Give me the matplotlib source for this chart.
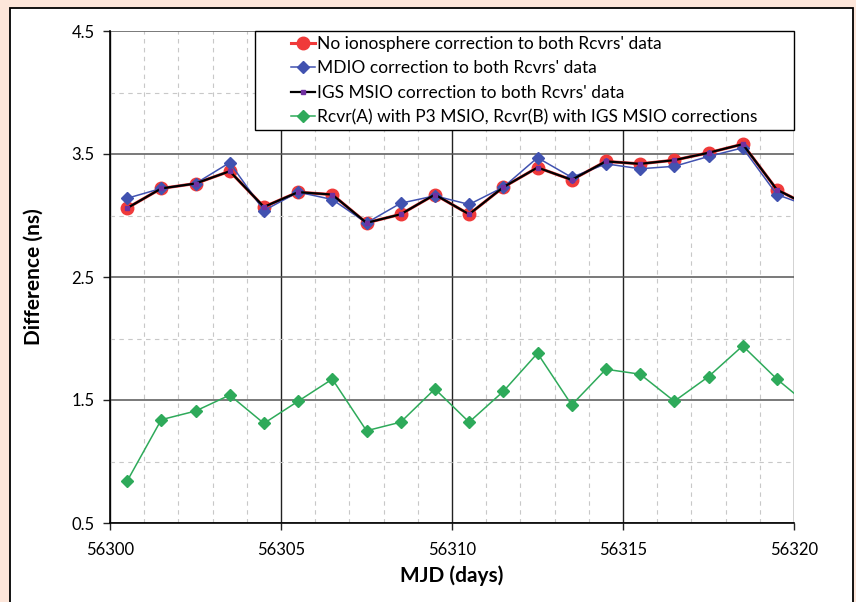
import matplotlib
matplotlib.use("Agg")
import matplotlib.pyplot as plt
from matplotlib.patches import Rectangle
from matplotlib.ticker import MultipleLocator, FormatStrFormatter

plt.rcParams["font.family"] = ["Lato", "DejaVu Sans"]

PEACH = "#FDE6DA"
RED = "#F03A3A"
BLUE = "#4152B0"
PURPLE = "#7030A0"
GREEN = "#2EAA5A"

mjd = [56300.5, 56301.5, 56302.5, 56303.5, 56304.5, 56305.5, 56306.5,
       56307.5, 56308.5, 56309.5, 56310.5, 56311.5, 56312.5, 56313.5,
       56314.5, 56315.5, 56316.5, 56317.5, 56318.5, 56319.5, 56320.5]
no_iono = [3.06, 3.22, 3.26, 3.36, 3.07, 3.19, 3.17, 2.94, 3.01, 3.17, 3.01,
           3.23, 3.39, 3.29, 3.44, 3.42, 3.45, 3.51, 3.58, 3.21, 3.07]
mdio = [3.14, 3.22, 3.26, 3.43, 3.04, 3.19, 3.13, 2.94, 3.10, 3.16, 3.09,
        3.23, 3.47, 3.31, 3.42, 3.38, 3.40, 3.48, 3.55, 3.17, 3.07]
igs_msio = [3.06, 3.22, 3.26, 3.36, 3.07, 3.19, 3.17, 2.94, 3.01, 3.17, 3.01,
            3.23, 3.39, 3.29, 3.44, 3.42, 3.45, 3.51, 3.58, 3.21, 3.07]
p3_msio = [0.84, 1.34, 1.41, 1.54, 1.31, 1.49, 1.67, 1.25, 1.32, 1.59, 1.32,
           1.57, 1.88, 1.46, 1.75, 1.71, 1.49, 1.69, 1.94, 1.67, 1.44]

labels = ["No ionosphere correction to both Rcvrs' data",
          "MDIO correction to both Rcvrs' data",
          "IGS MSIO correction to both Rcvrs' data",
          "Rcvr(A) with P3 MSIO, Rcvr(B) with IGS MSIO corrections"]

W, H = 856, 602
fig = plt.figure(figsize=(W / 100, H / 100), dpi=100, facecolor=PEACH)
fig.patches.append(Rectangle((10 / W, -0.05), 843 / W, 1.05 - 8 / H,
                             transform=fig.transFigure, facecolor="white",
                             edgecolor="black", lw=1.3, zorder=0))

ax = fig.add_axes([110 / W, 1 - 523 / H, 684 / W, 492 / H])
ax.set_facecolor("white")
ax.set_zorder(1)

ax.plot(mjd, p3_msio, color=GREEN, lw=1.1, marker="D", ms=6.5, mec=GREEN,
        mfc=GREEN, zorder=3, label=labels[3])
ax.plot(mjd, no_iono, color=RED, lw=2.2, marker="o", ms=9, mec=RED,
        mfc=RED, zorder=4, label=labels[0])
ax.plot(mjd, mdio, color=BLUE, lw=1.1, marker="D", ms=6.5, mec=BLUE,
        mfc=BLUE, zorder=5, label=labels[1])
ax.plot(mjd, igs_msio, color="black", lw=1.6, marker="s", ms=3, mec=PURPLE,
        mfc=PURPLE, zorder=6, label=labels[2])

ax.set_xlim(56300, 56320)
ax.set_ylim(0.5, 4.5)
ax.xaxis.set_major_locator(MultipleLocator(5))
ax.xaxis.set_minor_locator(MultipleLocator(1))
ax.yaxis.set_major_locator(MultipleLocator(1))
ax.yaxis.set_minor_locator(MultipleLocator(0.5))
ax.set_yticks([0.5, 1.5, 2.5, 3.5, 4.5])
ax.yaxis.set_major_formatter(FormatStrFormatter("%.1f"))

ax.grid(which="minor", color="#C8C8C8", ls=(0, (4, 4)), lw=0.8)
ax.grid(which="major", axis="x", color="#222222", lw=1.0)
ax.grid(which="major", axis="y", color="#555555", lw=1.1)
ax.set_axisbelow(True)

for s in ["top", "right"]:
    ax.spines[s].set_visible(False)
for s in ["left", "bottom"]:
    ax.spines[s].set_color("black")
    ax.spines[s].set_linewidth(1.2)

ax.tick_params(which="major", direction="out", length=5, width=1,
               colors="#222222", labelsize=12, labelcolor="black")
ax.tick_params(axis="y", pad=6)
ax.tick_params(axis="x", pad=9)
ax.tick_params(which="minor", length=0)

ax.set_xlabel("MJD (days)", fontsize=15, fontweight="bold", labelpad=5)
ax.set_ylabel("Difference (ns)", fontsize=15, fontweight="bold", labelpad=20)

# legend box drawn separately (Excel style padding)
fig.patches.append(Rectangle((255 / W, 1 - 130 / H), 539 / W, 99 / H,
                             transform=fig.transFigure, facecolor="white",
                             edgecolor="black", lw=1.0, zorder=5))
handles, labs = ax.get_legend_handles_labels()
order = [1, 2, 3, 0]
leg = fig.legend([handles[i] for i in order], [labs[i] for i in order],
                 loc="center", bbox_to_anchor=(524 / W, 1 - 80.5 / H),
                 frameon=False, fontsize=12.5, handlelength=1.4,
                 handletextpad=0.1, labelspacing=0.48, borderpad=0.2)
leg.set_zorder(6)

fig.savefig("out.png", dpi=100, facecolor=PEACH)
